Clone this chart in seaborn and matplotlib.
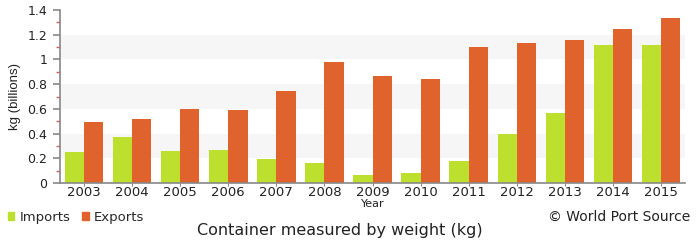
import matplotlib
matplotlib.use("Agg")
import matplotlib.pyplot as plt
import seaborn as sns
import pandas as pd
import numpy as np
from matplotlib.patches import Patch

years = ["2003", "2004", "2005", "2006", "2007", "2008", "2009", "2010",
         "2011", "2012", "2013", "2014", "2015"]
imports = [0.247, 0.37, 0.26, 0.265, 0.194, 0.158, 0.061, 0.08,
           0.175, 0.40, 0.565, 1.115, 1.115]
exports = [0.495, 0.52, 0.60, 0.59, 0.745, 0.98, 0.867, 0.842,
           1.10, 1.133, 1.155, 1.246, 1.335]
series = ["Imports", "Exports"]
colors = ["#bde02e", "#e0622c"]

df = pd.DataFrame({
    "Year": years * 2,
    "value": imports + exports,
    "series": [series[0]] * len(years) + [series[1]] * len(years),
})

sns.set_style("white")
plt.rcParams["font.family"] = ["DejaVu Sans"]

fig = plt.figure(figsize=(7, 2.4), dpi=100)
ax = fig.add_axes([60 / 700, 1 - 183 / 240, 625 / 700, 173 / 240])

# alternating bands
for lo in [0.2, 0.6, 1.0]:
    ax.axhspan(lo, lo + 0.2, color="#f6f6f6", zorder=0, lw=0)

sns.barplot(data=df, x="Year", y="value", hue="series", palette=colors,
            width=0.8, ax=ax, legend=False, zorder=2,
            edgecolor="none", saturation=1)

ax.set_xlim(-0.5, 12.5)
ax.set_ylim(0, 1.4)
ax.set_yticks(np.arange(0, 1.41, 0.2))
ax.set_yticklabels(["0", "0.2", "0.4", "0.6", "0.8", "1", "1.2", "1.4"])
ax.set_yticks(np.arange(0.1, 1.4, 0.2), minor=True)
ax.tick_params(axis="y", which="major", length=5, width=1.2, color="#888888",
               labelsize=9, pad=4, left=True)
ax.tick_params(axis="y", which="minor", length=3, width=1, color="#e06060",
               left=True)
ax.tick_params(axis="x", length=2, color="#888888", labelsize=9.5, pad=0.5,
               bottom=True)
for lbl in ax.get_yticklabels() + ax.get_xticklabels():
    lbl.set_color("#222222")

for s in ["top", "right"]:
    ax.spines[s].set_visible(False)
for s in ["left", "bottom"]:
    ax.spines[s].set_color("#888888")
    ax.spines[s].set_linewidth(1.2)

ax.set_xlabel("Year", fontsize=8, labelpad=0, color="#222222")
ax.set_ylabel("kg (billions)", fontsize=9.5, labelpad=5, color="#222222",
              family=["Liberation Sans", "DejaVu Sans"])

# legend
handles = [Patch(color=c, label=l) for c, l in zip(colors, series)]
fig.legend(handles=handles, loc="center left",
           bbox_to_anchor=(5 / 700, 1 - 217 / 240),
           ncol=2, frameon=False, fontsize=9.5, handlelength=0.5,
           handleheight=0.5, handletextpad=0.4, columnspacing=0.9,
           borderaxespad=0, borderpad=0.2)

fig.text(690 / 700, 1 - 217 / 240, "© World Port Source", ha="right",
         va="center", fontsize=10, color="#222222")
fig.text(340 / 700, 1 - 231 / 240, "Container measured by weight (kg)",
         ha="center", va="center", fontsize=11.5, color="#222222")

fig.savefig("out.png", dpi=100, facecolor="white")
